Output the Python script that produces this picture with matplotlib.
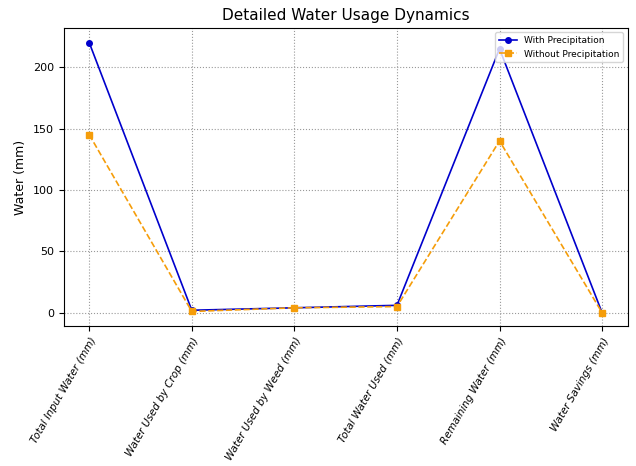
import numpy as np
import matplotlib.pyplot as plt

categories = ['Total Input Water (mm)', 'Water Used by Crop (mm)', 'Water Used by Weed (mm)',
              'Total Water Used (mm)', 'Remaining Water (mm)', 'Water Savings (mm)']
with_precip = [220, 2, 4, 6, 215, 0]
without_precip = [145, 1, 4, 5, 140, 0]

fig, ax = plt.subplots(figsize=(6.36, 4.66), dpi=100)
fig.subplots_adjust(left=0.10, right=0.987, top=0.94, bottom=0.30)
x = np.arange(len(categories))
ax.plot(x, with_precip, marker='o', color='#0000cc', markersize=4, linewidth=1.2, label='With Precipitation')
ax.plot(x, without_precip, marker='s', linestyle='--', color='#f59d0a', markersize=4, linewidth=1.2, label='Without Precipitation')
ax.set_xticks(x)
ax.set_xticklabels(categories, rotation=60, ha='right', rotation_mode='anchor',
                   fontstyle='italic', fontsize=7.5)
ax.set_ylabel('Water (mm)', fontsize=9)
ax.set_title('Detailed Water Usage Dynamics', fontsize=11)
ax.set_yticks([0, 50, 100, 150, 200])
ax.tick_params(axis='y', labelsize=8)
ax.set_ylim(-11, 232)
ax.set_xlim(-0.25, 5.25)
ax.grid(True, linestyle=':', color='#999999', linewidth=0.8)
ax.legend(fontsize=6.5, loc='upper right')
fig.savefig('out.png')
